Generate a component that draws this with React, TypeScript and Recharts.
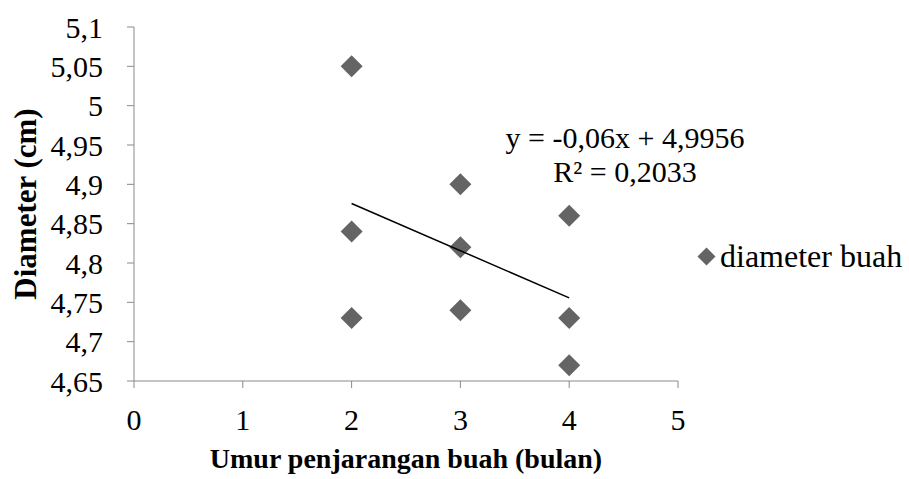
import { ScatterChart, Scatter, XAxis, YAxis, Legend } from "recharts";

const umur = [2, 2, 2, 3, 3, 3, 4, 4, 4];
const diameter = [5.05, 4.84, 4.73, 4.9, 4.82, 4.74, 4.86, 4.73, 4.67];
const xTicks = [0, 1, 2, 3, 4, 5];
const yTicks = [4.65, 4.7, 4.75, 4.8, 4.85, 4.9, 4.95, 5, 5.05, 5.1];

// trendline coefficients as shown in the chart label
const slope = -0.06;
const intercept = 4.9956;
const rSquared = 0.2033;

const points = umur.map((x, i) => ({ x, y: diameter[i] }));
const xMin = Math.min(...umur);
const xMax = Math.max(...umur);
const trend = [
  { x: xMin, y: slope * xMin + intercept },
  { x: xMax, y: slope * xMax + intercept },
];

const fmt = (v: number) => String(v).replace(".", ",");
const axisColor = "#898989";
const markColor = "#646464";
const font = "'Liberation Serif', 'Times New Roman', serif";

const Diamond = (props: any) => {
  const { cx, cy } = props;
  const r = 11;
  return (
    <polygon
      points={`${cx},${cy - r} ${cx + r},${cy} ${cx},${cy + r} ${cx - r},${cy}`}
      fill={markColor}
    />
  );
};

const LegendBox = () => (
  <div style={{ display: "flex", alignItems: "center", fontFamily: font, fontSize: 32, color: "#000", whiteSpace: "nowrap" }}>
    <svg width={19} height={19} style={{ marginRight: 4 }}>
      <polygon points="9.5,0.5 18.5,9.5 9.5,18.5 0.5,9.5" fill={markColor} />
    </svg>
    <span>diameter buah</span>
  </div>
);

export default function App() {
  return (
    <div style={{ position: "fixed", left: 0, top: 0, background: "#fff" }}>
      <ScatterChart
        width={909}
        height={479}
        margin={{ top: 27, right: 231, bottom: 68, left: 44 }}
        style={{ fontFamily: font }}
      >
        <XAxis
          type="number"
          dataKey="x"
          domain={[0, 5]}
          ticks={xTicks}
          interval={0}
          allowDataOverflow
          stroke={axisColor}
          tickSize={7}
          tickMargin={21}
          tick={{ fill: "#000", fontSize: 30, fontFamily: font }}
          label={{
            value: "Umur penjarangan buah (bulan)",
            position: "insideBottom",
            offset: -57,
            fill: "#000",
            fontSize: 28,
            fontWeight: "bold",
            fontFamily: font,
          }}
        />
        <YAxis
          type="number"
          dataKey="y"
          width={90}
          domain={[4.65, 5.1]}
          ticks={yTicks}
          interval={0}
          allowDataOverflow
          stroke={axisColor}
          tickSize={7}
          tickMargin={24}
          tickFormatter={fmt}
          tick={{ fill: "#000", fontSize: 30, fontFamily: font }}
          label={{
            value: "Diameter (cm)",
            angle: -90,
            position: "insideLeft",
            offset: -19,
            fill: "#000",
            fontSize: 31,
            fontWeight: "bold",
            fontFamily: font,
            style: { textAnchor: "middle" },
          }}
        />
        <Legend
          layout="horizontal"
          verticalAlign="middle"
          align="center"
          content={<LegendBox />}
          wrapperStyle={{ position: "absolute", left: 697, top: 238, width: 212 }}
        />
        <Scatter
          name="diameter buah"
          data={points}
          shape={<Diamond />}
          isAnimationActive={false}
        />
        <Scatter
          name="trend"
          data={trend}
          legendType="none"
          line={{ stroke: "#000", strokeWidth: 1.5 }}
          shape={() => <g />}
          isAnimationActive={false}
        />
        <text x={625} y={148} textAnchor="middle" fontSize={30} fontFamily={font} fill="#000">
          {`y = ${fmt(slope)}x + ${fmt(intercept)}`}
        </text>
        <text x={625} y={182} textAnchor="middle" fontSize={30} fontFamily={font} fill="#000">
          {`R² = ${fmt(rSquared)}`}
        </text>
      </ScatterChart>
    </div>
  );
}
